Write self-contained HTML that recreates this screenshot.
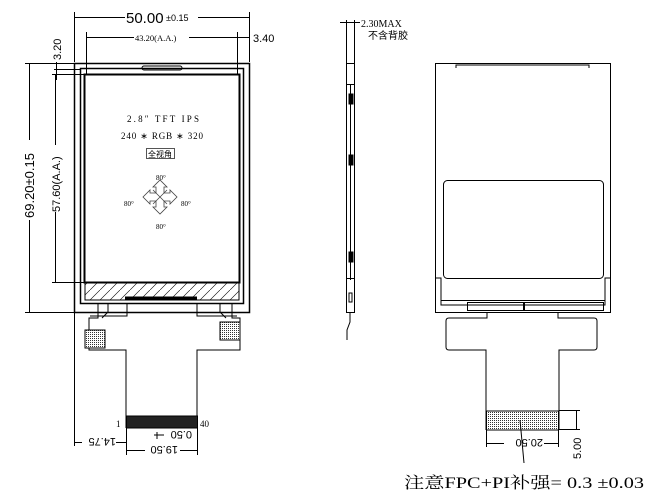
<!DOCTYPE html>
<html><head><meta charset="utf-8"><style>
html,body{margin:0;padding:0;background:#fff;width:662px;height:497px;overflow:hidden}
svg{display:block}
text{font-family:"Liberation Sans","Noto Sans CJK SC",sans-serif;fill:#000}
.s{font-family:"Liberation Serif","Noto Serif CJK SC",serif}
</style></head><body>
<svg width="662" height="497" viewBox="0 0 662 497" xmlns="http://www.w3.org/2000/svg">
<defs>
<pattern id="h" width="10" height="10" patternUnits="userSpaceOnUse"><path d="M0 10L10 0" stroke="#000" stroke-width="0.6"/></pattern>
<pattern id="m" width="2" height="2" patternUnits="userSpaceOnUse"><rect width="2" height="2" fill="#fff"/><rect width="1" height="1" fill="#333"/></pattern>
</defs>
<g fill="none" stroke="#000" stroke-width="1">
<rect x="74.5" y="63.5" width="175" height="249" stroke-width="1.5"/>
<rect x="80.5" y="68.5" width="163" height="235" stroke-width="1.5"/>
<rect x="84.5" y="74.5" width="155" height="208" stroke-width="2"/>
<rect x="85" y="283" width="154" height="17" fill="url(#h)"/>
<line x1="125" y1="298" x2="197" y2="298" stroke-width="3"/>
<rect x="142" y="66" width="40" height="4" rx="2"/>
<line x1="74.5" y1="12" x2="74.5" y2="62"/><line x1="249.5" y1="12" x2="249.5" y2="62"/>
<line x1="75" y1="17.5" x2="125" y2="17.5"/><line x1="198" y1="17.5" x2="249" y2="17.5"/>
<line x1="86.5" y1="32" x2="86.5" y2="74"/><line x1="237.5" y1="32" x2="237.5" y2="74"/>
<line x1="87" y1="37.5" x2="134" y2="37.5"/><line x1="189" y1="37.5" x2="250" y2="37.5"/>
<line x1="25" y1="63.5" x2="74" y2="63.5"/><line x1="25" y1="312.5" x2="74" y2="312.5"/>
<line x1="29.5" y1="64" x2="29.5" y2="140"/><line x1="29.5" y1="220" x2="29.5" y2="312"/>
<line x1="52" y1="74.5" x2="86" y2="74.5"/><line x1="52" y1="282.5" x2="86" y2="282.5"/>
<line x1="55.5" y1="75" x2="55.5" y2="145"/><line x1="55.5" y1="212" x2="55.5" y2="282"/>
<line x1="56.5" y1="62" x2="56.5" y2="80"/>
<line x1="54" y1="69.5" x2="80" y2="69.5"/>
<path d="M98 303 V318 H89 V350 H126 V428 M197 428 V350 H240 V318 H232 V303"/>
<path d="M108 303 V312 L102 318 M127 303 V316 H90 M197 303 V316 H237 M220 303 V312 L226 318"/>
<rect x="85" y="330" width="20" height="18" fill="url(#m)"/>
<rect x="220" y="322" width="20" height="18" fill="url(#m)"/>
<rect x="126.5" y="416" width="71" height="12" fill="#222"/>
<line x1="74.5" y1="313" x2="74.5" y2="446"/>
<line x1="126.5" y1="428" x2="126.5" y2="455"/><line x1="197.5" y1="428" x2="197.5" y2="455"/>
<line x1="75" y1="442.5" x2="82" y2="442.5"/><line x1="116" y1="442.5" x2="126" y2="442.5"/>
<line x1="127" y1="450.5" x2="145" y2="450.5"/><line x1="180" y1="450.5" x2="197" y2="450.5"/>
<line x1="154" y1="435" x2="164" y2="435"/><line x1="157" y1="432" x2="157" y2="439"/>
<rect x="346.5" y="63.5" width="8" height="249"/>
<line x1="350.5" y1="84" x2="350.5" y2="280"/>
<line x1="346" y1="84.5" x2="355" y2="84.5"/><line x1="346" y1="278.5" x2="355" y2="278.5"/>
<rect x="349" y="94" width="4" height="10" fill="#000"/>
<rect x="349" y="155" width="4" height="10" fill="#000"/>
<rect x="349" y="252" width="4" height="10" fill="#000"/>
<rect x="349" y="293" width="3" height="9"/>
<path d="M350 312 V322 L347 330 V340"/>
<line x1="346.5" y1="20" x2="346.5" y2="63"/><line x1="354.5" y1="20" x2="354.5" y2="63"/>
<line x1="340" y1="22.5" x2="360" y2="22.5"/>
<rect x="435.5" y="63.5" width="175" height="249"/>
<path d="M456 68 V65 H589 V68"/>
<rect x="443.5" y="180.5" width="160" height="98" rx="4"/>
<path d="M435 278 H441 V305 H605 V278 H611"/>
<line x1="441" y1="300.5" x2="605" y2="300.5"/>
<rect x="467.5" y="302.5" width="56" height="8"/><rect x="524.5" y="302.5" width="79" height="8"/>
<path d="M487 312 V318 H449 Q446 318 446 321 V347 Q446 350 449 350 H486 V430 M559 430 V350 H594 Q597 350 597 347 V321 Q597 318 594 318 H558 V312"/>
<rect x="486.5" y="411" width="72" height="19" fill="url(#m)"/>
<line x1="486.5" y1="430" x2="486.5" y2="447"/><line x1="558.5" y1="430" x2="558.5" y2="447"/>
<line x1="487" y1="443.5" x2="504" y2="443.5"/><line x1="544" y1="443.5" x2="558" y2="443.5"/>
<line x1="559" y1="410.5" x2="580" y2="410.5"/><line x1="559" y1="429.5" x2="580" y2="429.5"/>
<line x1="576.5" y1="411" x2="576.5" y2="430"/>
<line x1="520" y1="420" x2="524" y2="463"/>
</g>
<text x="126" y="23" font-size="15">50.00</text>
<text x="166" y="21" font-size="9">±0.15</text>
<text x="135" y="41" font-size="8.5" class="s">43.20(A.A.)</text>
<text x="253" y="42" font-size="11">3.40</text>
<text transform="translate(61,60) rotate(-90)" font-size="11">3.20</text>
<text transform="translate(34,218) rotate(-90)" font-size="13">69.20±0.15</text>
<text transform="translate(60,212) rotate(-90)" font-size="11">57.60(A.A.)</text>
<text x="127" y="122" font-size="9" class="s" fill="#555" textLength="72">2.8″  TFT   IPS</text>
<text x="121" y="139" font-size="9" class="s" fill="#555" textLength="82">240 ∗ RGB ∗ 320</text>
<rect x="146.5" y="148.5" width="28" height="10" fill="none" stroke="#555"/>
<text x="148" y="157" font-size="8" fill="#555">全视角</text>
<g fill="none" stroke="#444" stroke-width="0.8">
<path d="M156 190 V187 H153 L160 180 L167 187 H164 V193 H170 V190 L177 197 L170 204 V201 H164 V207 H167 L160 214 L153 207 H156 V201 H150 V204 L143 197 L150 190 V193 H156 Z"/>
<path d="M153 190 L167 204 M167 190 L153 204"/>
</g>
<text x="156" y="180" font-size="7" class="s" fill="#555">80°</text>
<text x="124" y="206" font-size="7" class="s" fill="#555">80°</text>
<text x="181" y="206" font-size="7" class="s" fill="#555">80°</text>
<text x="156" y="229" font-size="7" class="s" fill="#555">80°</text>
<text x="116" y="427" font-size="9" class="s">1</text>
<text x="200" y="427" font-size="9" class="s">40</text>
<text transform="translate(116,438) rotate(180)" font-size="11">14.75</text>
<text transform="translate(192,431) rotate(180)" font-size="11">0.50</text>
<text transform="translate(178,446) rotate(180)" font-size="11">19.50</text>
<text x="361" y="27" font-size="10" class="s">2.30MAX</text>
<text x="368" y="39" font-size="10" fill="#2040a0">不含背胶</text>
<text transform="translate(543,439) rotate(180)" font-size="11">20.50</text>
<text transform="translate(581,459) rotate(-90)" font-size="11">5.00</text>
<text x="404" y="488" font-size="16" class="s" textLength="240" lengthAdjust="spacingAndGlyphs">注意FPC+PI补强= 0.3  ±0.03</text>
</svg>
</body></html>
